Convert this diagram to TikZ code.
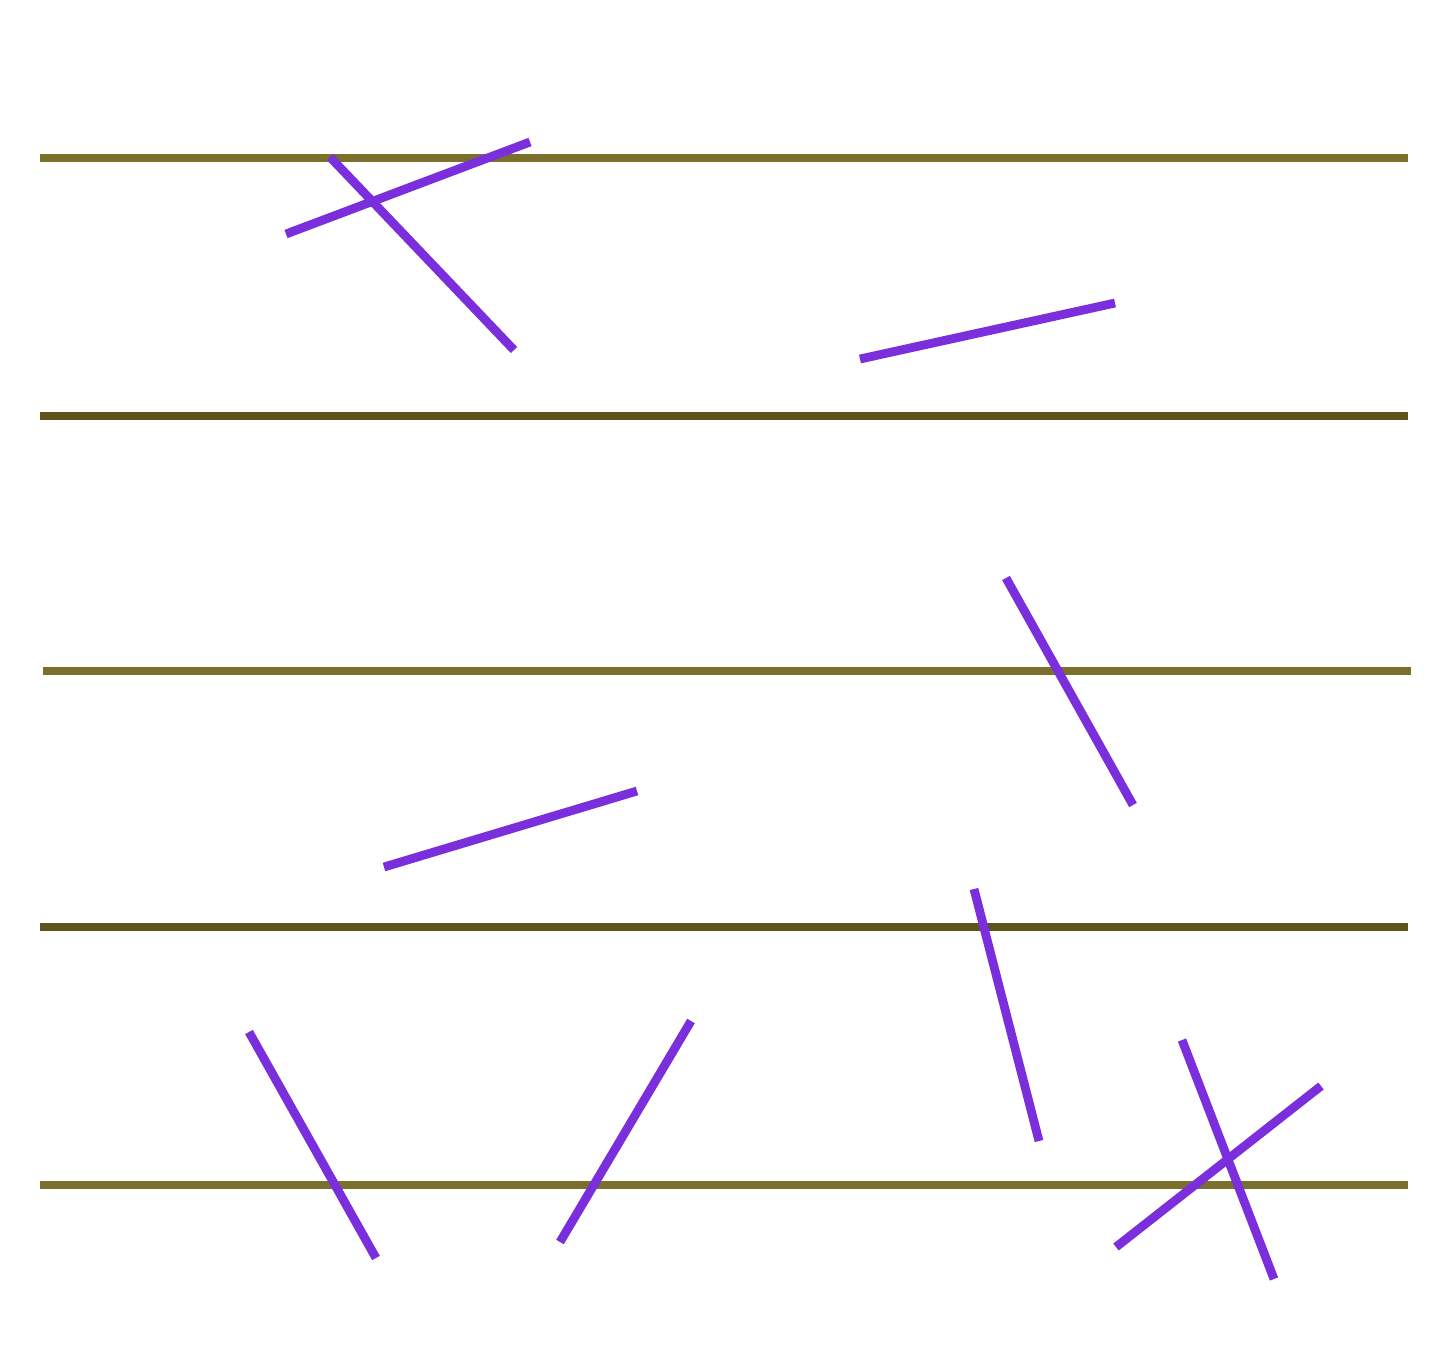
\documentclass[tikz,border=0pt]{standalone}
\usepackage{tikz}
\definecolor{plankline}{HTML}{7A702C}
\definecolor{plankdark}{HTML}{5F531C}
\definecolor{needle}{HTML}{7B2FDC}
\begin{document}
\begin{tikzpicture}[x=0.01cm, y=-0.01cm, line width=2.5pt]
	% 0. 画布边界 (按原图比例)
	\useasboundingbox (0,0) rectangle (1454,1350);
	
	% 1. 平行木板线
	\draw[plankline] (40,158) -- (1408,158);
	\draw[plankdark] (40,416) -- (1408,416);
	\draw[plankline] (43,671) -- (1411,671);
	\draw[plankdark] (40,927) -- (1408,927);
	\draw[plankline] (40,1185) -- (1408,1185);
	
	% 2. 随机投针
	\foreach \xa/\ya/\xb/\yb in {330/157/514/350, 286/234/530/142, 860/359/1115/303,
			1006/578/1133/805, 384/867/637/791, 974/889/1039/1141,
			249/1032/376/1258, 560/1242/691/1021, 1182/1040/1274/1279,
			1116/1247/1321/1086}
		\draw[needle] (\xa,\ya) -- (\xb,\yb);
\end{tikzpicture}
\end{document}
